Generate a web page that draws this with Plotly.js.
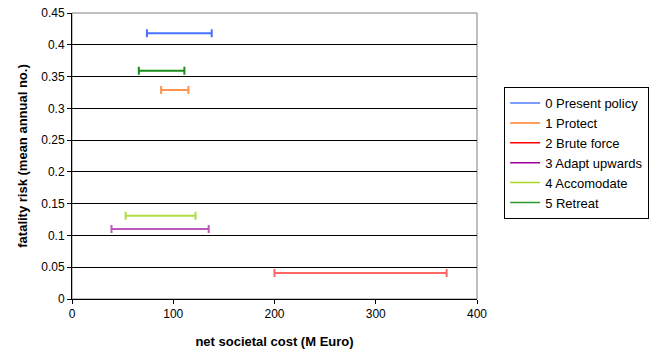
<!DOCTYPE html>
<html><head><meta charset="utf-8">
<script src="https://cdn.plot.ly/plotly-3.0.1.min.js"></script>
<style>body{margin:0;background:#fff}</style>
</head><body><div id="chart" style="width:657px;height:357px"></div>
<script>
const names = ["0 Present policy","1 Protect","2 Brute force","3 Adapt upwards","4 Accomodate","5 Retreat"];
const costMid = [106, 112, 250, 88, 88, 88];
const costMinus = [32, 24, 50, 49, 35, 22];
const costPlus = [32, 3, 120, 47, 34, 23];
const risk = [0.418, 0.329, 0.041, 0.11, 0.131, 0.359];
const lineColors = ["#4f7cff","#ff7f2a","#ff0000","#990099","#a8d51c","#2e9b2e"];
const barColors = ["rgba(40,90,255,0.85)","rgba(255,102,0,0.7)","rgba(255,0,0,0.6)","rgba(150,0,150,0.65)","rgba(150,210,0,0.75)","rgba(0,128,0,0.9)"];

const traces = names.map((n,i)=>({
  type:'scatter', mode:'lines', name:n,
  x:[costMid[i]], y:[risk[i]],
  line:{color:lineColors[i], width:1.5},
  error_x:{type:'data', symmetric:false, array:[costPlus[i]], arrayminus:[costMinus[i]],
           color:barColors[i], thickness:2, width:4}
}));

const layout = {
  width:657, height:357,
  margin:{l:72, r:180, t:13, b:58, autoexpand:false},
  paper_bgcolor:'#fff', plot_bgcolor:'#fff',
  font:{family:'"Liberation Sans", Arial, sans-serif', size:12, color:'#000'},
  showlegend:true,
  legend:{x:1.067, y:0.741, xanchor:'left', yanchor:'top', bordercolor:'#000', borderwidth:1,
          font:{size:13}, tracegroupgap:0, itemwidth:30},
  xaxis:{range:[0,400], dtick:100, tick0:0, showgrid:false, zeroline:false,
         showline:true, linecolor:'#000', linewidth:1, ticks:'outside', ticklen:4, tickcolor:'#000',
         title:{text:'<b>net societal cost (M Euro)</b>', font:{size:13}, standoff:16}},
  yaxis:{range:[0,0.45], dtick:0.05, tick0:0, showgrid:true, gridcolor:'#000', gridwidth:1, zeroline:false,
         showline:true, linecolor:'#000', linewidth:1, ticks:'outside', ticklen:4, tickcolor:'#000',
         title:{text:'<b>fatality risk (mean annual no.)</b>', font:{size:13}, standoff:10}},
  shapes:[{type:'rect', xref:'paper', yref:'paper', x0:0, x1:1, y0:0, y1:1,
           line:{color:'#808080', width:1}, layer:'below'}]
};
Plotly.newPlot('chart', traces, layout, {displayModeBar:false});
</script></body></html>
